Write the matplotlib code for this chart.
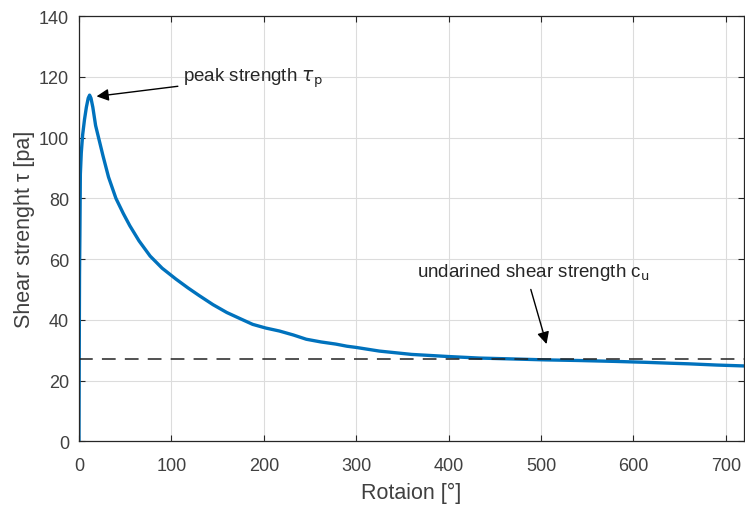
import matplotlib.pyplot as plt

plt.rcParams['font.family'] = ['Liberation Sans', 'DejaVu Sans']
plt.rcParams['mathtext.fontset'] = 'dejavusans'

# values
rotation = [0, 0.3, 0.6, 1.0, 1.5, 2.5, 4, 6, 8, 10, 11.5, 13, 15, 18, 22, 26,
            32, 40, 48, 55, 65, 77, 90, 105, 118, 130, 145, 160, 175, 188,
            202, 217, 232, 246, 262, 278, 290, 300, 325, 360, 400, 433, 470,
            505, 540, 580, 613, 640, 660, 690, 720]
shear = [0, 30, 55, 68, 88, 95, 101, 106, 110, 113, 114, 113, 110, 104, 99,
         94, 87, 80, 75, 71, 66, 61, 57, 53.4, 50.5, 48, 45, 42.4, 40.3, 38.5,
         37.3, 36.3, 35, 33.6, 32.7, 32, 31.3, 30.9, 29.7, 28.6, 27.9, 27.4,
         27.1, 26.8, 26.6, 26.3, 26.0, 25.7, 25.5, 25.1, 24.8]
cu_level = 27

xticks = [0, 100, 200, 300, 400, 500, 600, 700]
yticks = [0, 20, 40, 60, 80, 100, 120, 140]

fig = plt.figure(figsize=(7.45, 5.06), dpi=100)
ax = fig.add_axes([0.106, 0.126, 0.893, 0.840])

ax.plot(rotation, shear, color='#0072BD', lw=2.4, solid_joinstyle='round')
ax.axhline(cu_level, color='#222222', lw=1.1, dashes=(9, 6))

ax.set_xlim(0, 720)
ax.set_ylim(0, 140)
ax.set_xticks(xticks)
ax.set_yticks(yticks)
ax.grid(True, color='#dcdcdc', lw=0.8)
ax.set_axisbelow(True)

for s in ax.spines.values():
    s.set_color('#262626')
    s.set_linewidth(0.9)
ax.tick_params(direction='in', length=4, width=0.8, colors='#262626',
               labelcolor='#404040', labelsize=13, top=True, right=True)
ax.tick_params(axis='x', pad=11)
ax.tick_params(axis='y', pad=7)

ax.set_xlabel('Rotaion [°]', fontsize=15.5, color='#404040', labelpad=6)
ax.set_ylabel('Shear strenght τ [pa]', fontsize=15.5, color='#404040',
              labelpad=3)

ax.annotate(r'peak strength $\tau_\mathrm{p}$', xy=(19, 113.6), xytext=(113, 120),
            fontsize=13.5, color='#262626', va='center', ha='left',
            arrowprops=dict(arrowstyle='-|>', color='black', lw=1,
                            mutation_scale=18, shrinkA=2, shrinkB=0))
ax.annotate(r'undarined shear strength c$_\mathrm{u}$', xy=(506, 32),
            xytext=(366, 56), fontsize=13.5, color='#262626', va='center',
            ha='left')
ax.annotate('', xy=(506, 32), xytext=(489, 50),
            arrowprops=dict(arrowstyle='-|>', color='black', lw=1,
                            mutation_scale=18, shrinkA=0, shrinkB=0))

fig.savefig('out.png', dpi=100)
